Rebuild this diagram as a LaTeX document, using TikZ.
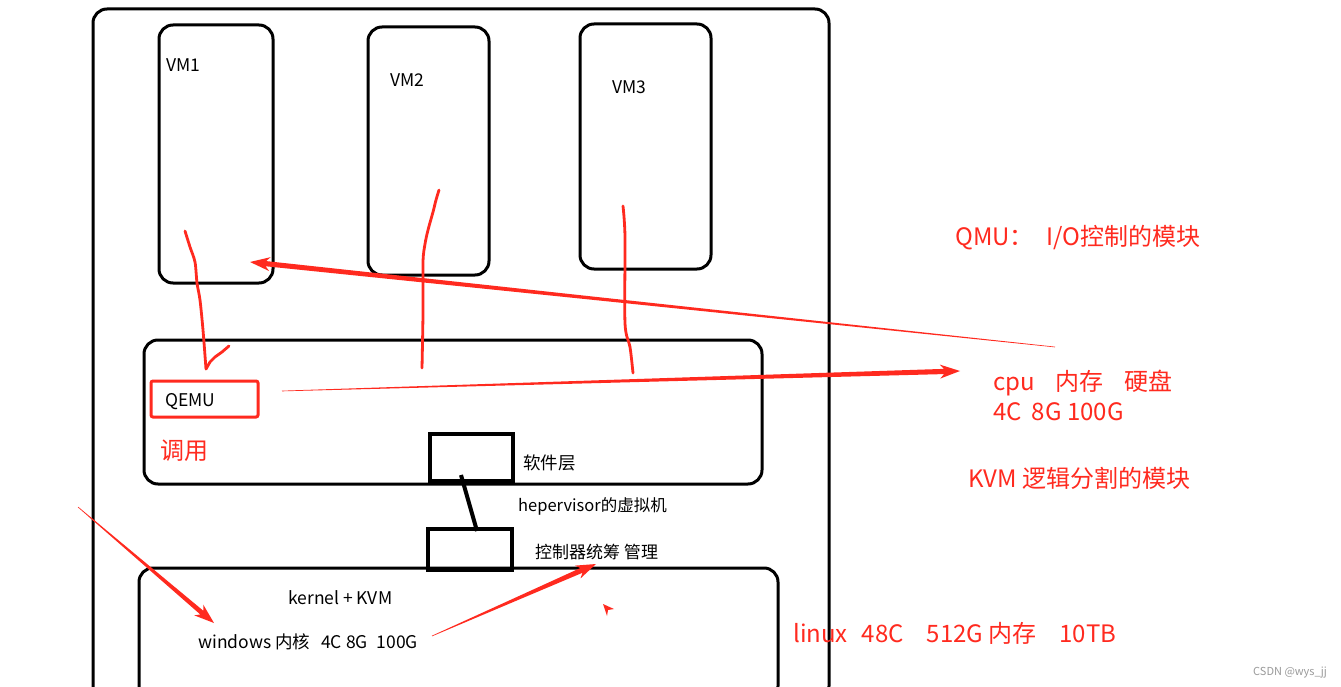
\documentclass[tikz,border=0pt]{standalone}
\usepackage{fontspec}
\setmainfont{Noto Sans CJK SC}
\usetikzlibrary{calc}
\definecolor{annot}{HTML}{FF2A1F}
\definecolor{wm}{HTML}{9A9A9A}
\tikzset{
  box/.style={draw=black, line width=3pt, rounded corners=14pt, inner sep=0pt},
  sbox/.style={draw=black, line width=3.5pt, inner sep=0pt},
  qbox/.style={draw=annot, line width=3pt, rounded corners=2pt, inner sep=0pt},
  lbl/.style={anchor=base west, inner sep=0pt, font=\fontsize{17.5}{20}\selectfont},
  rlbl/.style={anchor=base west, inner sep=0pt, text=annot, font=\fontsize{24}{28}\selectfont},
  hand/.style={draw=annot, line width=2.8pt, line cap=round, line join=round},
}
% #1 tail, #2 tip, #3 tail half width, #4 shaft half width near head, #5 head length (pt number), #6 head half width
\newcommand\taperarrow[6]{%
  \path ($(#2)!#5pt!(#1)$) coordinate (#2-h) ($(#2)!0.8*#5pt!(#1)$) coordinate (#2-n);
  \fill[annot] ($(#1)!#3!90:(#2)$) -- ($(#2-n)!#4!90:(#2)$) -- ($(#2-h)!#6!90:(#2)$) -- (#2)
    -- ($(#2-h)!#6!-90:(#2)$) -- ($(#2-n)!#4!-90:(#2)$) -- ($(#1)!#3!-90:(#2)$) -- cycle;
}
\begin{document}
\begin{tikzpicture}[x=1pt, y=-1pt]
\useasboundingbox (0,0) rectangle (1341,687);
\fill[white] (0,0) rectangle (1341,687);
% boxes
\node[box, minimum width=736pt, minimum height=691pt] (host) at (461,354.5) {};
\node[box, minimum width=114pt, minimum height=258pt] (vm1) at (216,154) {};
\node[box, minimum width=121pt, minimum height=248pt] (vm2) at (428.5,151) {};
\node[box, minimum width=131pt, minimum height=245pt] (vm3) at (645.5,146.5) {};
\node[box, minimum width=618pt, minimum height=144pt] (soft) at (453,412) {};
\node[qbox, minimum width=107pt, minimum height=36pt] (qemubox) at (204.5,399) {};
\node[sbox, minimum width=83pt, minimum height=47pt] (sb1) at (471.5,457.5) {};
\node[box, minimum width=639pt, minimum height=132pt] (kern) at (458.5,634) {};
\node[sbox, minimum width=84pt, minimum height=41pt] (sb2) at (470,549.5) {};
% labels
\node[lbl] (t-vm1) at (166,72) {VM1};
\node[lbl] (t-vm2) at (390,87) {VM2};
\node[lbl] (t-vm3) at (612,94) {VM3};
\node[lbl] (t-qemu) at (165,406) {QEMU};
\node[lbl] (t-soft) at (523,469) {软件层};
\node[lbl, font=\fontsize{16.5}{19}\selectfont] (t-hyp) at (518,511) {hepervisor的虚拟机};
\node[lbl, font=\fontsize{17}{19}\selectfont] (t-ctl) at (535,558) {控制器统筹 管理};
\node[lbl] (t-kvm) at (288,604) {kernel + KVM};
\node[lbl] (t-win) at (198,648) {windows 内核\hspace{11pt}4C 8G\hspace{5pt} 100G};
\node[rlbl] (t-call) at (160,459) {调用};
\node[rlbl] (t-qmu) at (955,245) {QMU：\hspace{13pt}I/O控制的模块};
\node[rlbl] (t-res) at (993,390) {cpu\hspace{21pt}内存\hspace{21pt}硬盘};
\node[rlbl] (t-res2) at (993,420) {4C\hspace{10pt}8G 100G};
\node[rlbl] (t-kvmm) at (968,487) {KVM 逻辑分割的模块};
\node[rlbl] (t-linux) at (793,642) {linux\hspace{14pt}48C\hspace{23pt}512G 内存\hspace{23pt}10TB};
\node[anchor=base east, inner sep=0pt, text=wm, font=\fontsize{11}{13}\selectfont] (t-wm) at (1327,675) {CSDN @wys\_jj};
% black connector between the two small boxes
\coordinate (c1) at (461,475);
\coordinate (c2) at (477,531);
\draw[line width=4pt] (c1) -- (c2);
% hand-drawn red strokes
\draw[hand] plot[smooth] coordinates {(185,231) (190,247) (195,262) (197,283) (200,300) (203,330) (206,369)};
\draw[hand] (206,369) -- (210,362) -- (215,357) -- (222,352) -- (229,346);
\draw[hand] plot[smooth] coordinates {(439,190) (436,200) (433,212) (428,230) (425,244) (423,262) (423,313) (422,368)};
\draw[hand] plot[smooth] coordinates {(623,206) (625,237) (625,323) (630,347) (633,373)};
% tapered red arrows
\coordinate (a1t) at (1055,347);
\coordinate (a1h) at (250,262);
\taperarrow{a1t}{a1h}{0.3pt}{2.6pt}{20}{7pt}
\coordinate (a2t) at (282,391);
\coordinate (a2h) at (960,371);
\taperarrow{a2t}{a2h}{0.3pt}{2.6pt}{20}{7pt}
\coordinate (a3t) at (78,507);
\coordinate (a3h) at (214,623);
\taperarrow{a3t}{a3h}{0.3pt}{2.4pt}{20}{7pt}
\coordinate (a4t) at (432,636);
\coordinate (a4h) at (596,564);
\taperarrow{a4t}{a4h}{0.3pt}{2.6pt}{20}{7pt}
% stray small arrowhead
\fill[annot] (603,604) -- (614,609) -- (608,610) -- (607,616) -- cycle;
\end{tikzpicture}
\end{document}
